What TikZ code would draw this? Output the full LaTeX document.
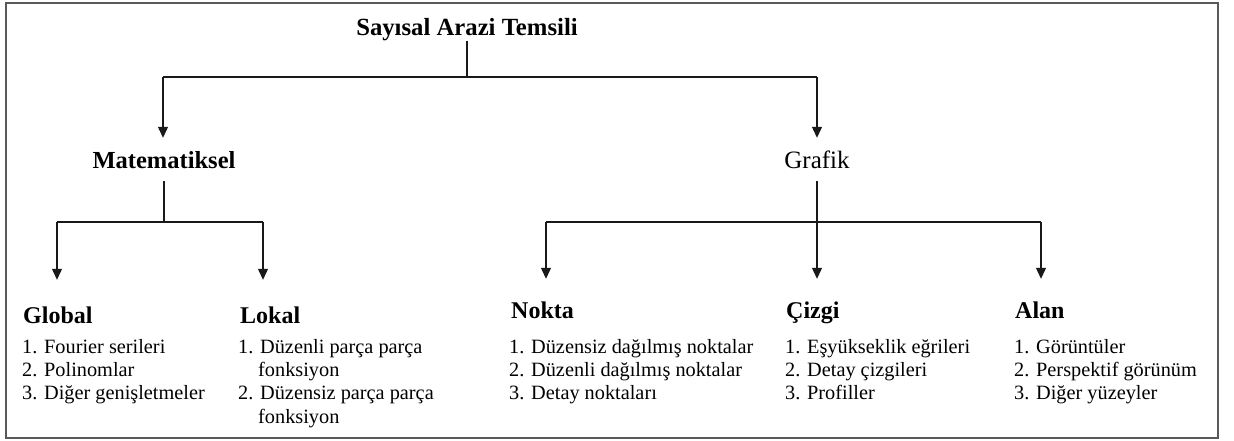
\documentclass[tikz,border=0pt]{standalone}
\usepackage{fontspec}
\setmainfont{Liberation Serif}
\usetikzlibrary{arrows.meta}
\tikzset{
  ln/.style={line width=1.2pt, draw=black!90},
  arr/.style={ln, -{Triangle[width=10pt,length=11pt]}},
  ttl/.style={font=\bfseries\fontsize{24.7}{28}\selectfont, inner sep=0pt, text height=17pt, text depth=5pt, anchor=base},
  hd/.style={font=\bfseries\fontsize{24.5}{28}\selectfont, inner sep=0pt, text height=16pt, text depth=5pt, anchor=base},
  hdl/.style={font=\bfseries\fontsize{24}{28}\selectfont, inner sep=0pt, text height=16pt, text depth=5pt, anchor=base west},
  hdr/.style={font=\fontsize{25}{28}\selectfont, inner sep=0pt, text height=16pt, text depth=5pt, anchor=base},
  lst/.style={font=\fontsize{20.3}{24}\selectfont, inner sep=0pt, anchor=base west},
}
\begin{document}
\begin{tikzpicture}[x=1pt,y=-1pt]
\useasboundingbox (0,0) rectangle (1234,441);
\draw[line width=1.5pt, draw=black!65] (6,3) rectangle (1218,438);

% nodes
\node[ttl] (root) at (467,36) {Sayısal Arazi Temsili};
\node[hd] (mat) at (164,168) {Matematiksel};
\node[hdr] (graf) at (817,168) {Grafik};
\node[hdl] (glob) at (23,323) {Global};
\node[hdl] (lok) at (240,323) {Lokal};
\node[hdl] (nok) at (511,318) {Nokta};
\node[hdl] (ciz) at (786,318) {Çizgi};
\node[hdl] (alan) at (1015,318) {Alan};

% lists
\node[lst] (g1) at (22,353) {1. Fourier serileri};
\node[lst] (g2) at (22,376.5) {2. Polinomlar};
\node[lst] (g3) at (22,399) {3. Diğer genişletmeler};
\node[lst] (l1) at (238,353) {1. Düzenli parça parça};
\node[lst] (l2) at (258,376.5) {fonksiyon};
\node[lst] (l3) at (238,399) {2. Düzensiz parça parça};
\node[lst] (l4) at (258,423) {fonksiyon};
\node[lst] (n1) at (509,353) {1. Düzensiz dağılmış noktalar};
\node[lst] (n2) at (509,376.5) {2. Düzenli dağılmış noktalar};
\node[lst] (n3) at (509,399) {3. Detay noktaları};
\node[lst] (c1) at (785,353) {1. Eşyükseklik eğrileri};
\node[lst] (c2) at (785,376.5) {2. Detay çizgileri};
\node[lst] (c3) at (785,399) {3. Profiller};
\node[lst] (a1) at (1014,353) {1. Görüntüler};
\node[lst] (a2) at (1014,376.5) {2. Perspektif görünüm};
\node[lst] (a3) at (1014,399) {3. Diğer yüzeyler};

% bus coordinates
\coordinate (bus1) at (466,77);
\coordinate (pM) at (163,77);
\coordinate (pGr) at (817,77);
\coordinate (pGl) at (57,222);
\coordinate (pLo) at (263,222);
\coordinate (pNo) at (546,222);
\coordinate (pAl) at (1041,222);

% connectors level 1
\draw[ln] (root.south) -- (root.south |- bus1);
\draw[ln] (pM) -- (pGr);
\draw[arr, shorten >=14pt] (pM) -- (pM |- mat.north);
\draw[arr, shorten >=14pt] (pGr) -- (pGr |- graf.north);

% Matematiksel branch
\draw[ln, shorten <=8pt] (mat.south) -- (mat.south |- pGl);
\draw[ln] (pGl) -- (pLo);
\draw[arr, shorten >=27pt] (pGl) -- (pGl |- glob.north);
\draw[arr, shorten >=27pt] (pLo) -- (pLo |- lok.north);

% Grafik branch
\draw[ln] (pNo) -- (pAl);
\draw[arr, shorten <=8pt, shorten >=23pt] (graf.south) -- (graf.south |- ciz.north);
\draw[arr, shorten >=23pt] (pNo) -- (pNo |- nok.north);
\draw[arr, shorten >=23pt] (pAl) -- (pAl |- alan.north);
\end{tikzpicture}
\end{document}
